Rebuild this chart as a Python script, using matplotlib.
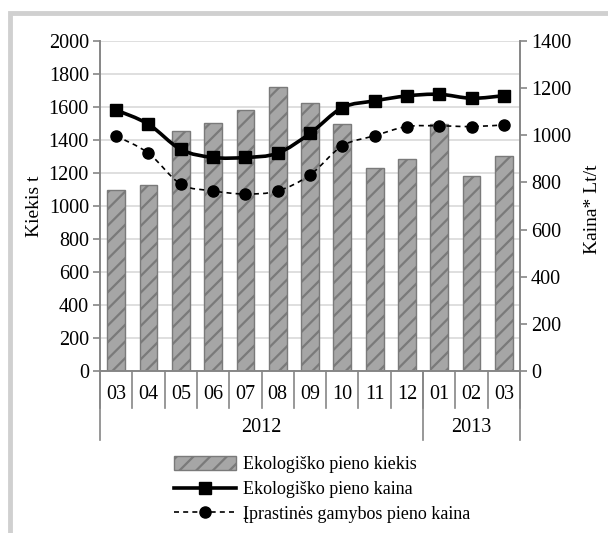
import numpy as np
import matplotlib
matplotlib.use("Agg")
import matplotlib.pyplot as plt
from matplotlib.path import Path
from matplotlib.patches import PathPatch, Rectangle, Patch
from matplotlib.lines import Line2D

# Data
months = ["03", "04", "05", "06", "07", "08", "09", "10", "11", "12", "01", "02", "03"]
years = ["2012", "2013"]
year_spans = [(0, 9), (10, 12)]  # first / last month index of each year
eco_amount = [1100, 1130, 1455, 1505, 1580, 1720, 1625, 1495, 1228, 1283, 1497, 1184, 1303]
eco_price = [1107, 1047, 940, 906, 906, 924, 1008, 1117, 1146, 1167, 1174, 1157, 1168]
conv_price = [997, 924, 793, 764, 751, 764, 832, 955, 998, 1037, 1040, 1037, 1044]

label_amount = "Ekologiško pieno kiekis"
label_eco = "Ekologiško pieno kaina"
label_conv = "Įprastinės gamybos pieno kaina"

plt.rcParams["font.family"] = ["Liberation Serif", "DejaVu Serif"]
plt.rcParams["hatch.linewidth"] = 1.6
FS = 13      # legend / axis titles
FS_NUM = 14.5  # tick numbers
GRID = "#d9d9d9"
SPINE = "#868686"


def smooth_path(xs, ys):
    # Catmull-Rom style smoothing like Excel "smoothed line"
    xs = np.asarray(xs, float)
    ys = np.asarray(ys, float)
    pts = np.column_stack([xs, ys])
    verts = [pts[0]]
    codes = [Path.MOVETO]
    n = len(pts)
    for i in range(n - 1):
        p0 = pts[max(i - 1, 0)]
        p1 = pts[i]
        p2 = pts[i + 1]
        p3 = pts[min(i + 2, n - 1)]
        c1 = p1 + (p2 - p0) / 6.0
        c2 = p2 - (p3 - p1) / 6.0
        verts += [c1, c2, p2]
        codes += [Path.CURVE4] * 3
    return Path(verts, codes)


fig = plt.figure(figsize=(6.08, 5.33), dpi=100)
ax = fig.add_axes([100 / 608, 1 - 371 / 533, 420 / 608, 330 / 533])
ax2 = ax.twinx()

x = np.arange(len(months))
ax.bar(x, eco_amount, width=0.55, color="#a6a6a6", edgecolor="#7a7a7a",
       hatch="//", linewidth=1.0, zorder=2)
ax.set_xlim(-0.5, len(months) - 0.5)
ax.set_ylim(0, 2000)
ax.set_yticks(range(0, 2001, 200))
ax.yaxis.grid(True, color=GRID, linewidth=1.2, zorder=0)
ax.set_axisbelow(True)
ax.set_xticks([])

ax2.set_ylim(0, 1400)
ax2.set_yticks(range(0, 1401, 200))

for a in (ax, ax2):
    a.spines["top"].set_visible(False)
    for s in ("left", "right", "bottom"):
        a.spines[s].set_color(SPINE)
        a.spines[s].set_linewidth(1.2)
    a.tick_params(axis="y", labelsize=FS_NUM, color=SPINE, length=5, width=1.2, pad=3)

# smoothed price lines on right axis
ax2.add_patch(PathPatch(smooth_path(x, eco_price), fill=False, edgecolor="black",
                        linewidth=2.6, zorder=3))
ax2.plot(x, eco_price, linestyle="none", marker="s", markersize=8,
         color="black", zorder=4)
ax2.add_patch(PathPatch(smooth_path(x, conv_price), fill=False, edgecolor="black",
                        linewidth=1.2, linestyle=(0, (3, 2.5)), zorder=3))
ax2.plot(x, conv_price, linestyle="none", marker="o", markersize=8,
         color="black", zorder=4)

# two-level category axis
tr = ax.get_xaxis_transform()
for i in range(len(months) + 1):
    ax.plot([i - 0.5, i - 0.5], [0, -0.112], transform=tr, color=SPINE,
            linewidth=1.2, clip_on=False)
for i, m in enumerate(months):
    ax.text(i, -0.072, m, transform=tr, ha="center", va="center", fontsize=FS_NUM)
for (a, b), yr in zip(year_spans, years):
    ax.plot([a - 0.5, a - 0.5], [0, -0.21], transform=tr, color=SPINE,
            linewidth=1.2, clip_on=False)
    ax.text((a + b) / 2, -0.17, yr, transform=tr, ha="center", va="center",
            fontsize=FS_NUM)
ax.plot([len(months) - 0.5] * 2, [0, -0.21], transform=tr, color=SPINE,
        linewidth=1.2, clip_on=False)

ax.set_ylabel("Kiekis t", fontsize=FS + 1)
ax.yaxis.set_label_coords(-57 / 420, 0.5)
ax2.set_ylabel("Kaina* Lt/t", fontsize=FS + 1, rotation=90)
ax2.yaxis.set_label_coords(1 + 64 / 420, 0.49)

handles = [
    Patch(facecolor="#a6a6a6", edgecolor="#7a7a7a", hatch="//"),
    Line2D([], [], color="black", linewidth=2.6, marker="s", markersize=8),
    Line2D([], [], color="black", linewidth=1.2, linestyle=(0, (3, 2.5)),
           marker="o", markersize=8),
]
fig.legend(handles, [label_amount, label_eco, label_conv], loc="upper left",
           bbox_to_anchor=(158 / 608, 1 - 440 / 533), frameon=False,
           fontsize=FS, handlelength=3.4, handleheight=0.8, labelspacing=0.42,
           handletextpad=0.4)

# chart area border
fig.add_artist(Rectangle((10 / 608, -0.2), 1.2, 1.2 - 13 / 533,
                         transform=fig.transFigure, fill=False,
                         edgecolor="#d0d0d0", linewidth=3.5))

fig.savefig("out.png", dpi=100)
